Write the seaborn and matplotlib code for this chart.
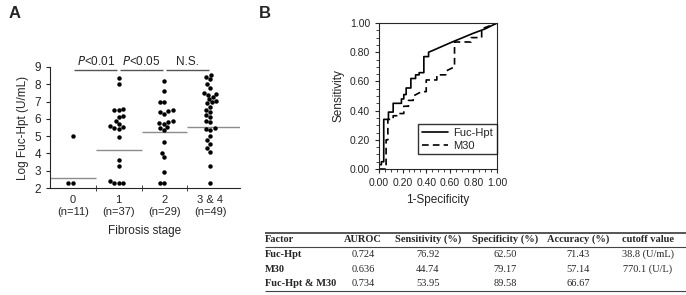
import numpy as np
import pandas as pd
import seaborn as sns
import matplotlib.pyplot as plt
from matplotlib.ticker import MultipleLocator

# panel A data (visible dots)
stages = ['0\n(n=11)', '1\n(n=37)', '2\n(n=29)', '3 & 4\n(n=49)']
stage0 = [5.0, 2.3, 2.3]
stage1 = [8.35, 8.0, 6.55, 6.5, 6.5, 6.15, 6.1, 5.9, 5.7, 5.6, 5.5, 5.45, 5.4,
          4.95, 3.6, 3.25, 2.4, 2.3, 2.3, 2.3]
stage2 = [8.2, 7.6, 6.95, 6.95, 6.5, 6.45, 6.4, 6.3, 5.9, 5.8, 5.75, 5.7, 5.55,
          5.45, 5.35, 4.65, 4.0, 3.8, 2.95, 2.3, 2.3]
stage34 = [8.55, 8.4, 8.3, 8.0, 7.8, 7.5, 7.45, 7.4, 7.25, 7.15, 7.05, 6.95, 6.9,
           6.7, 6.5, 6.4, 6.2, 6.1, 5.85, 5.8, 5.45, 5.4, 5.35, 5.0, 4.75, 4.55,
           4.3, 4.1, 3.3, 2.3]
medians = [2.55, 4.2, 5.25, 5.5]
sig_labels = ['$\\it{P}$<0.01', '$\\it{P}$<0.05', 'N.S.']

# panel B ROC steps
fuc_fpr = [0, 0, 0.02, 0.02, 0.04, 0.04, 0.08, 0.08, 0.12, 0.12, 0.19, 0.19, 0.21,
           0.21, 0.23, 0.23, 0.27, 0.27, 0.31, 0.31, 0.34, 0.34, 0.38, 0.38, 0.42,
           0.42, 0.45, 0.62, 0.80, 0.90, 1.0]
fuc_tpr = [0, 0.03, 0.03, 0.05, 0.05, 0.34, 0.34, 0.39, 0.39, 0.45, 0.45, 0.48, 0.48,
           0.51, 0.51, 0.555, 0.555, 0.62, 0.62, 0.645, 0.645, 0.66, 0.66, 0.77, 0.77,
           0.80, 0.81, 0.87, 0.93, 0.96, 1.0]
m30_fpr = [0, 0.06, 0.06, 0.075, 0.075, 0.12, 0.12, 0.17, 0.17, 0.21, 0.21, 0.25, 0.25,
           0.29, 0.29, 0.36, 0.40, 0.40, 0.49, 0.49, 0.565, 0.565, 0.64, 0.64, 0.78,
           0.78, 0.87, 0.87, 1.0]
m30_tpr = [0, 0, 0.20, 0.20, 0.34, 0.34, 0.365, 0.365, 0.38, 0.38, 0.43, 0.43, 0.47,
           0.47, 0.50, 0.53, 0.53, 0.61, 0.61, 0.645, 0.645, 0.67, 0.70, 0.87, 0.87,
           0.90, 0.90, 0.96, 1.0]

# table
tab_header = ['Factor', 'AUROC', 'Sensitivity (%)', 'Specificity (%)', 'Accuracy (%)', 'cutoff value']
tab_factor = ['Fuc-Hpt', 'M30', 'Fuc-Hpt & M30']
tab_auroc = ['0.724', '0.636', '0.734']
tab_sens = ['76.92', '44.74', '53.95']
tab_spec = ['62.50', '79.17', '89.58']
tab_acc = ['71.43', '57.14', '66.67']
tab_cut = ['38.8 (U/mL)', '770.1 (U/L)', '']

sns.set_style("ticks")
plt.rcParams['font.family'] = ['Liberation Sans', 'DejaVu Sans']
plt.rcParams['axes.linewidth'] = 0.8

fig = plt.figure(figsize=(6.86, 2.95), dpi=100)

# ---- panel A
axA = fig.add_axes([0.0729, 0.3627, 0.277, 0.4103])
df = pd.DataFrame({
    'stage': [stages[0]] * len(stage0) + [stages[1]] * len(stage1)
             + [stages[2]] * len(stage2) + [stages[3]] * len(stage34),
    'val': stage0 + stage1 + stage2 + stage34})
sns.swarmplot(data=df, x='stage', y='val', order=stages, color='black', size=3.2, ax=axA)
for i, m in enumerate(medians):
    right = i + 0.5 if i < 3 else 3.65
    axA.hlines(m, i - 0.5, right, color='#8c8c8c', lw=1.0)
for i, s in enumerate(sig_labels):
    axA.hlines(8.8, i + 0.03, i + 0.97, color='#555555', lw=1.0, clip_on=False)
    axA.text(i + 0.5, 8.95, s, ha='center', va='bottom', fontsize=8.5, clip_on=False)
axA.set_xlim(-0.5, 3.65)
axA.set_ylim(2, 9)
axA.set_yticks(range(2, 10))
axA.set_xticks([0.5, 1.5, 2.5], minor=True)
axA.tick_params(axis='x', which='major', length=0, labelsize=8, pad=5)
axA.tick_params(axis='x', which='minor', length=4, direction='inout')
axA.tick_params(axis='y', labelsize=8.5, length=3)
axA.set_xlabel('Fibrosis stage', fontsize=8.5, labelpad=6)
axA.set_ylabel('Log Fuc-Hpt (U/mL)', fontsize=8.5)
sns.despine(ax=axA)
fig.text(0.012, 0.955, 'A', fontsize=12, fontweight='bold', va='center')

# ---- panel B
axB = fig.add_axes([0.5525, 0.427, 0.172, 0.495])
sns.lineplot(x=fuc_fpr, y=fuc_tpr, sort=False, estimator=None, color='black', lw=1.2,
             ax=axB, label='Fuc-Hpt')
sns.lineplot(x=m30_fpr, y=m30_tpr, sort=False, estimator=None, color='black', lw=1.2,
             ax=axB, label='M30')
axB.lines[1].set_dashes((4, 2.5))
axB.set_xlim(0, 1)
axB.set_ylim(0, 1)
axB.set_xticks(np.arange(0, 1.01, 0.2))
axB.set_yticks(np.arange(0, 1.01, 0.2))
axB.xaxis.set_minor_locator(MultipleLocator(0.05))
axB.yaxis.set_minor_locator(MultipleLocator(0.05))
axB.xaxis.set_major_formatter(plt.FormatStrFormatter('%.2f'))
axB.yaxis.set_major_formatter(plt.FormatStrFormatter('%.2f'))
axB.tick_params(which='major', length=3, labelsize=7.5)
axB.tick_params(which='minor', length=2)
axB.set_xlabel('1-Specificity', fontsize=8.5)
axB.set_ylabel('Sensitivity', fontsize=8.5)
leg = axB.legend(loc='lower right', bbox_to_anchor=(1.0, 0.1), fontsize=8,
                 frameon=True, fancybox=False, edgecolor='black', handlelength=2.3,
                 handletextpad=0.5, borderpad=0.35, labelspacing=0.25,
                 borderaxespad=0.0)
leg.get_frame().set_linewidth(1.0)
leg.get_lines()[1].set_dashes((4, 2.5))
fig.text(0.378, 0.955, 'B', fontsize=12, fontweight='bold', va='center')

# ---- table
axT = fig.add_axes([0.386, 0.0, 0.614, 0.215])
axT.set_xlim(265, 686)
axT.set_ylim(295, 236)
axT.axis('off')
col_x = [265, 363, 428, 505, 578, 648]
row_y = [243, 257, 271, 284]
serif = ['Liberation Serif', 'DejaVu Serif']
for j, h in enumerate(tab_header):
    axT.text(col_x[j], row_y[0], h, ha='left' if j == 0 else 'center', va='center',
             fontsize=7.5, fontweight='bold', family=serif)
columns = [tab_factor, tab_auroc, tab_sens, tab_spec, tab_acc, tab_cut]
for j, col in enumerate(columns):
    for r, v in enumerate(col):
        axT.text(col_x[j], row_y[r + 1], v, ha='left' if j == 0 else 'center',
                 va='center', fontsize=7.5, family=serif,
                 fontweight='bold' if j == 0 else 'normal')
axT.hlines(237, 265, 686, color='#555555', lw=1.4)
axT.hlines(250, 265, 686, color='#444444', lw=0.8)
axT.hlines(291, 265, 686, color='#444444', lw=0.8)

fig.savefig('out.png', dpi=100)
